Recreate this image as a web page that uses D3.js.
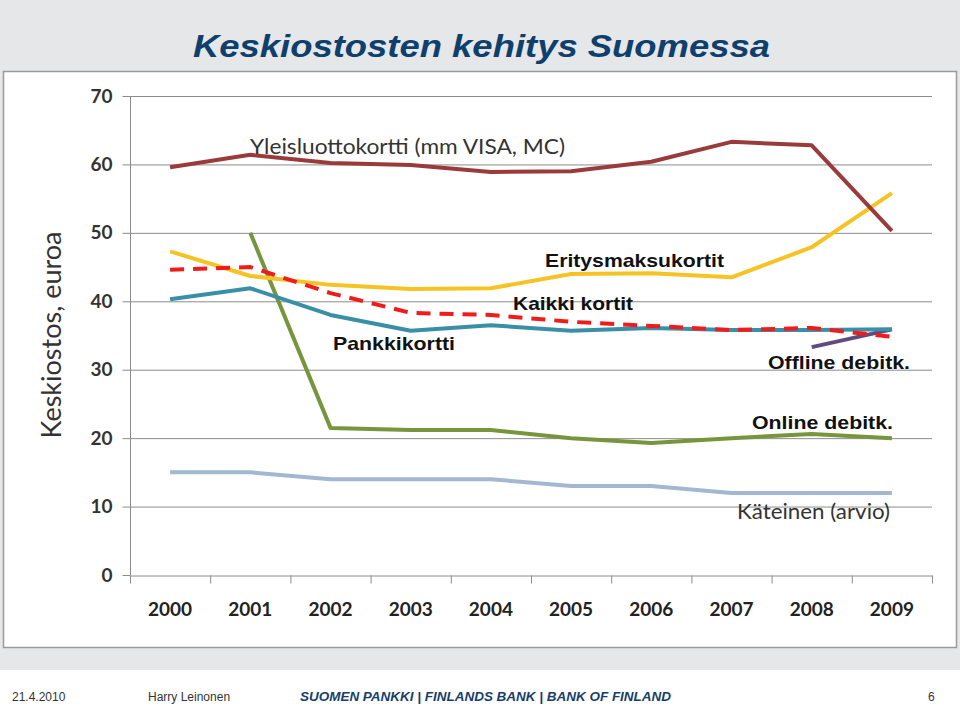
<!DOCTYPE html>
<html><head><meta charset="utf-8">
<script src="https://cdn.jsdelivr.net/npm/d3@7"></script>
<style>body{margin:0;background:#fff;}svg{display:block;}</style>
</head><body>
<script>
const years = ["2000","2001","2002","2003","2004","2005","2006","2007","2008","2009"];
const yTicks = [0,10,20,30,40,50,60,70];
const yleisluotto = [59.6,61.4,60.2,59.9,58.9,59.0,60.4,63.3,62.8,50.3];
const erityis = [47.3,43.7,42.4,41.8,41.9,44.0,44.1,43.5,47.9,55.8];
const kaikki = [44.6,45.0,41.2,38.3,38.0,37.0,36.4,35.8,36.1,34.8];
const pankki = [40.3,41.9,38.0,35.7,36.5,35.7,36.1,35.8,35.8,35.9];
const online = [null,50.0,21.5,21.2,21.2,20.0,19.3,20.0,20.6,20.0];
const offline = [null,null,null,null,null,null,null,null,33.3,35.9];
const kateinen = [15,15,14,14,14,13,13,12,12,12];

const W=960,H=707;
const svg=d3.select("body").append("svg").attr("width",W).attr("height",H);
// background
svg.append("rect").attr("width",W).attr("height",670).attr("fill","#e6e7e8");
svg.append("rect").attr("x",0).attr("y",670).attr("width",W).attr("height",37).attr("fill","#fff");
svg.append("rect").attr("x",3.5).attr("y",71.5).attr("width",953).attr("height",576).attr("fill","#fff").attr("stroke","#9a9a9a").attr("stroke-width",1.5);

// title
svg.append("text").attr("x",193).attr("y",57).attr("textLength",577).attr("lengthAdjust","spacingAndGlyphs")
  .attr("font-family","Liberation Sans, Arial, sans-serif").attr("font-weight","bold").attr("font-style","italic")
  .attr("font-size",31).attr("fill","#0e3f6d").text("Keskiostosten kehitys Suomessa");

const x=d3.scaleBand().domain(years).range([130,932]);
const y=d3.scaleLinear().domain([0,70]).range([575,96]);
const g=svg.append("g");
// gridlines
g.selectAll("line.grid").data(yTicks.filter(d=>d>0)).join("line")
  .attr("x1",130).attr("x2",932).attr("y1",d=>y(d)+0.5).attr("y2",d=>y(d)+0.5)
  .attr("stroke","#8c8c8c").attr("stroke-width",1);
// y axis
const ya=g.append("g").attr("transform","translate(130.5,0)").call(d3.axisLeft(y).tickValues(yTicks).tickSize(8).tickPadding(10));
ya.select(".domain").attr("stroke","#8c8c8c").attr("d","M0,96V575");
ya.selectAll(".tick line").attr("stroke","#8c8c8c");
ya.selectAll(".tick text").attr("font-family","Lato, sans-serif").attr("font-weight","bold").attr("font-size",19).attr("fill","#333");
// x axis
const xa=g.append("g").attr("transform","translate(0,575.5)").call(d3.axisBottom(x).tickSize(0).tickPadding(27));
xa.select(".domain").attr("stroke","#8c8c8c");
xa.selectAll(".tick text").attr("font-family","Lato, sans-serif").attr("font-weight","bold").attr("font-size",19).attr("fill","#222");
const bounds=years.map(d=>x(d)).concat([x.range()[1]]);
xa.selectAll("line.bt").data(bounds).join("line").attr("class","bt")
  .attr("x1",d=>d+0.5).attr("x2",d=>d+0.5).attr("y1",0).attr("y2",8).attr("stroke","#8c8c8c");
// y axis title
svg.append("text").attr("transform","translate(61,335) rotate(-90)").attr("text-anchor","middle")
  .attr("font-family","Lato, sans-serif").attr("font-size",27).attr("fill","#333").text("Keskiostos, euroa");

const cx=d=>x(d)+x.bandwidth()/2;
const line=d3.line().defined(d=>d.v!=null).x(d=>cx(d.yr)).y(d=>y(d.v)).curve(d3.curveLinear);
const series=[
  {vals:kateinen,color:"#a3b6d2",dash:null},
  {vals:online,color:"#77953d",dash:null},
  {vals:offline,color:"#614a7d",dash:null},
  {vals:erityis,color:"#f6c325",dash:null},
  {vals:pankki,color:"#3a8fa8",dash:null},
  {vals:kaikki,color:"#f21b1b",dash:"14,9"},
  {vals:yleisluotto,color:"#9a3b3b",dash:null}
];
series.forEach(s=>{
  const data=years.map((yr,i)=>({yr,v:s.vals[i]}));
  svg.append("path").attr("d",line(data)).attr("fill","none").attr("stroke",s.color)
    .attr("stroke-width",4).attr("stroke-dasharray",s.dash).attr("stroke-linejoin","round");
});

// labels
const lab=(t,x0,yb,len,opts)=>{
  const e=svg.append("text").attr("x",x0).attr("y",yb).text(t).attr("textLength",len).attr("lengthAdjust","spacingAndGlyphs");
  Object.entries(opts).forEach(([k,v])=>e.attr(k,v));
};
const calib={"font-family":"Lato, sans-serif","font-size":21,"fill":"#333"};
const arial={"font-family":"Liberation Sans, Arial, sans-serif","font-size":19,"font-weight":"bold","fill":"#111"};
lab("Yleisluottokortti (mm VISA, MC)",250,154,315,calib);
lab("Käteinen (arvio)",737,519,153,calib);
lab("Eritysmaksukortit",545,267,179,arial);
lab("Kaikki kortit",513,310,120,arial);
lab("Pankkikortti",333,350,122,arial);
lab("Offline debitk.",768,369,142,arial);
lab("Online debitk.",752,429,141,arial);

// footer
const ft={"font-family":"Liberation Sans, Arial, sans-serif","font-size":12,"fill":"#333"};
const fe=(t,x0,o)=>{const e=svg.append("text").attr("x",x0).attr("y",701).text(t);Object.entries(o).forEach(([k,v])=>e.attr(k,v));return e;};
fe("21.4.2010",12,ft);
fe("Harry Leinonen",148,ft);
fe("SUOMEN PANKKI | FINLANDS BANK | BANK OF FINLAND",300,{"font-family":"Liberation Sans, Arial, sans-serif","font-size":13,"font-weight":"bold","font-style":"italic","fill":"#173e6b"}).attr("textLength",371).attr("lengthAdjust","spacingAndGlyphs");
fe("6",928,ft);
</script>
</body></html>
